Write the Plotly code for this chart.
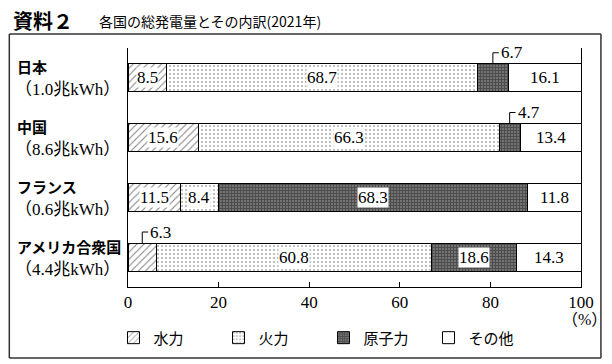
import plotly.graph_objects as go

countries = ["日本", "中国", "フランス", "アメリカ合衆国"]
totals = ["（1.0兆kWh）", "（8.6兆kWh）", "（0.6兆kWh）", "（4.4兆kWh）"]
sources = ["水力", "火力", "原子力", "その他"]
hydro = [8.5, 15.6, 11.5, 6.3]
thermal = [68.7, 66.3, 8.4, 60.8]
nuclear = [6.7, 4.7, 68.3, 18.6]
other = [16.1, 13.4, 11.8, 14.3]
x_ticks = [0, 20, 40, 60, 80, 100]

series = [hydro, thermal, nuclear, other]
patterns = [
    dict(shape="/", size=5, solidity=0.2, fgcolor="black", bgcolor="white"),
    dict(shape=".", size=4, solidity=0.2, fgcolor="#555555", bgcolor="white"),
    dict(shape="+", size=3, solidity=0.8, fgcolor="black", bgcolor="#9a9a9a"),
    dict(shape="", fgcolor="black", bgcolor="white"),
]

ypos = list(range(len(countries)))
SERIF = "Liberation Serif, 'Noto Sans CJK JP', serif"
GOTH = "'Noto Sans CJK JP', sans-serif"

fig = go.Figure()
for name, vals, pat in zip(sources, series, patterns):
    fig.add_trace(go.Bar(
        y=ypos, x=vals, orientation="h", name=name,
        marker=dict(color="white", pattern=pat, line=dict(color="black", width=1)),
        hoverinfo="skip",
    ))

annotations = []
shapes = []
half = 0.235
for i in ypos:
    cum = 0.0
    for vals in series:
        v = vals[i]
        c = cum + v / 2
        if v < 7.5:
            y_top = i - half
            y_up = i - 0.42
            shapes.append(dict(type="line", xref="x", yref="y", x0=c, x1=c, y0=y_top, y1=y_up,
                               line=dict(color="black", width=1)))
            shapes.append(dict(type="line", xref="x", yref="y", x0=c, x1=c + 1.3, y0=y_up, y1=y_up,
                               line=dict(color="black", width=1)))
            annotations.append(dict(x=c + 1.3, y=y_up, xref="x", yref="y", text=f"{v}",
                                    showarrow=False, xanchor="left", yanchor="middle",
                                    font=dict(family=SERIF, size=17, color="black")))
        else:
            annotations.append(dict(x=c, y=i, xref="x", yref="y", text=f"{v}",
                                    showarrow=False, xanchor="center", yanchor="middle",
                                    bgcolor="white", borderpad=0,
                                    font=dict(family=SERIF, size=17, color="black")))
        cum += v
    annotations.append(dict(x=-0.2494, y=i, xref="paper", yref="y", yshift=11,
                            text=f"<b>{countries[i]}</b>", showarrow=False,
                            xanchor="left", yanchor="middle",
                            font=dict(family=GOTH, size=15, color="black")))
    annotations.append(dict(x=-0.0135, y=i, xref="paper", yref="y", yshift=-12,
                            text=totals[i], showarrow=False,
                            xanchor="right", yanchor="middle",
                            font=dict(family=SERIF, size=17, color="black")))

annotations += [
    dict(x=-0.256, y=1.113, xref="paper", yref="paper", text="<b>資料２</b>", showarrow=False,
         xanchor="left", yanchor="middle", borderpad=0,
         font=dict(family=GOTH, size=20, color="black")),
    dict(x=-0.0684, y=1.113, xref="paper", yref="paper", text="各国の総発電量とその内訳(2021年)",
         showarrow=False, xanchor="left", yanchor="middle",
         font=dict(family=GOTH, size=14, color="black")),
    dict(x=1.007, y=-0.135, xref="paper", yref="paper", text="（%）", showarrow=False,
         xanchor="center", yanchor="middle", font=dict(family=SERIF, size=16, color="black")),
]

# outer frame drawn as four paper-referenced lines
fx0, fx1, fy0, fy1 = -0.262, 1.044, -0.297, 1.0586
frame_line = dict(color="#333333", width=1.5)
for (a, b, c2, d) in [(fx0, fx1, fy1, fy1), (fx0, fx1, fy0, fy0), (fx0, fx0, fy0, fy1), (fx1, fx1, fy0, fy1)]:
    shapes.append(dict(type="line", xref="paper", yref="paper", x0=a, x1=b, y0=c2, y1=d,
                       line=frame_line, layer="above"))

fig.update_layout(
    barmode="stack",
    bargap=0.53,
    width=604, height=356,
    margin=dict(l=120, r=31, t=40, b=77, autoexpand=False),
    paper_bgcolor="white", plot_bgcolor="white",
    showlegend=True,
    legend=dict(orientation="h", x=-0.032, y=-0.213, xanchor="left", yanchor="middle",
                entrywidth=60, entrywidthmode="pixels", traceorder="normal",
                font=dict(family=GOTH, size=15, color="black"), bgcolor="rgba(0,0,0,0)"),
    xaxis=dict(range=[0, 100], tickvals=x_ticks, ticks="inside", ticklen=5, tickcolor="black",
               showline=True, linecolor="black", linewidth=1, showgrid=False, zeroline=False,
               tickfont=dict(family=SERIF, size=17, color="black"), fixedrange=True),
    yaxis=dict(range=[3.5, -0.5], showticklabels=False, ticks="", showgrid=False, zeroline=False,
               showline=True, mirror=True, linecolor="black", linewidth=1, fixedrange=True),
    annotations=annotations,
    shapes=shapes,
)

fig.write_html("out.html")
